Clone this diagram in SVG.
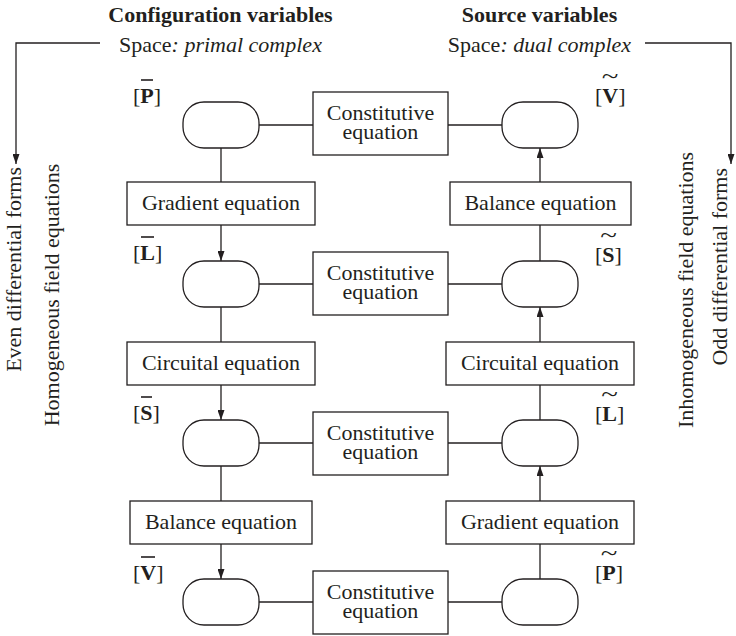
<svg xmlns="http://www.w3.org/2000/svg" width="736" height="636" viewBox="0 0 736 636">
<style>
text{font-family:"Liberation Serif","Times New Roman",serif;font-size:22px;fill:#231f20}
.c{text-anchor:middle}
.b{font-weight:bold}
.i{font-style:italic}
.box{fill:#fff;stroke:#231f20;stroke-width:1.3}
.ov{fill:#fff;stroke:#231f20;stroke-width:1.3}
.ln{stroke:#231f20;stroke-width:1.3;fill:none}
.bar{stroke:#231f20;stroke-width:1.6}
</style>
<defs>
<marker id="ah" markerUnits="userSpaceOnUse" markerWidth="10" markerHeight="7" refX="10" refY="3.5" orient="auto">
<path d="M0,0 L10,3.5 L0,7 z" fill="#231f20"/>
</marker>
</defs>
<rect width="736" height="636" fill="#fff"/>

<g id="headers">
<text class="c b" x="220.5" y="22">Configuration variables</text>
<text class="c" x="220.5" y="52">Space<tspan class="i">: primal complex</tspan></text>
<text class="c b" x="539.5" y="22">Source variables</text>
<text class="c" x="539.5" y="52">Space<tspan class="i">: dual complex</tspan></text>
</g>

<g id="side-labels">
<text transform="translate(21,167) rotate(-90)" text-anchor="end">Even differential forms</text>
<text transform="translate(59,295) rotate(-90)" text-anchor="middle">Homogeneous field equations</text>
<text transform="translate(693,290) rotate(-90)" text-anchor="middle">Inhomogeneous field equations</text>
<text transform="translate(727,168) rotate(-90)" text-anchor="end">Odd differential forms</text>
</g>

<g id="connectors">
<path class="ln" d="M100,43 H16 V164" marker-end="url(#ah)"/>
<path class="ln" d="M645,43 H731 V164" marker-end="url(#ah)"/>
<line class="ln" x1="259" y1="125" x2="313" y2="125"/>
<line class="ln" x1="448" y1="125" x2="502" y2="125"/>
<line class="ln" x1="259" y1="284" x2="313" y2="284"/>
<line class="ln" x1="448" y1="284" x2="502" y2="284"/>
<line class="ln" x1="259" y1="443" x2="313" y2="443"/>
<line class="ln" x1="448" y1="443" x2="502" y2="443"/>
<line class="ln" x1="259" y1="602" x2="313" y2="602"/>
<line class="ln" x1="448" y1="602" x2="502" y2="602"/>
<line class="ln" x1="221" y1="148" x2="221" y2="182"/>
<line class="ln" x1="221" y1="225" x2="221" y2="261" marker-end="url(#ah)"/>
<line class="ln" x1="221" y1="307" x2="221" y2="342"/>
<line class="ln" x1="221" y1="385" x2="221" y2="420" marker-end="url(#ah)"/>
<line class="ln" x1="221" y1="466" x2="221" y2="501"/>
<line class="ln" x1="221" y1="544" x2="221" y2="579" marker-end="url(#ah)"/>
<line class="ln" x1="540" y1="579" x2="540" y2="544"/>
<line class="ln" x1="540" y1="501" x2="540" y2="466" marker-end="url(#ah)"/>
<line class="ln" x1="540" y1="420" x2="540" y2="385"/>
<line class="ln" x1="540" y1="342" x2="540" y2="307" marker-end="url(#ah)"/>
<line class="ln" x1="540" y1="261" x2="540" y2="225"/>
<line class="ln" x1="540" y1="182" x2="540" y2="148" marker-end="url(#ah)"/>
</g>

<g id="oval-P-bar"><rect class="ov" x="183" y="102" width="76" height="46" rx="21"/>
<text x="133" y="103">[<tspan class="b">P</tspan>]</text><line class="bar" x1="141" y1="80" x2="153" y2="80"/></g>
<g id="oval-L-bar"><rect class="ov" x="183" y="261" width="76" height="46" rx="21"/>
<text x="133" y="260">[<tspan class="b">L</tspan>]</text><line class="bar" x1="141" y1="237" x2="154" y2="237"/></g>
<g id="oval-S-bar"><rect class="ov" x="183" y="420" width="76" height="46" rx="21"/>
<text x="133" y="420">[<tspan class="b">S</tspan>]</text><line class="bar" x1="141" y1="397" x2="152" y2="397"/></g>
<g id="oval-V-bar"><rect class="ov" x="183" y="579" width="76" height="46" rx="21"/>
<text x="133" y="580">[<tspan class="b">V</tspan>]</text><line class="bar" x1="141" y1="557" x2="155" y2="557"/></g>

<g id="oval-V-tilde"><rect class="ov" x="502" y="102" width="76" height="46" rx="21"/>
<text x="595" y="103">[<tspan class="b">V</tspan>]</text><text class="c" transform="translate(610,83) scale(1.4,1)">~</text></g>
<g id="oval-S-tilde"><rect class="ov" x="502" y="261" width="76" height="46" rx="21"/>
<text x="595" y="262">[<tspan class="b">S</tspan>]</text><text class="c" transform="translate(608.5,242) scale(1.4,1)">~</text></g>
<g id="oval-L-tilde"><rect class="ov" x="502" y="420" width="76" height="46" rx="21"/>
<text x="595" y="421">[<tspan class="b">L</tspan>]</text><text class="c" transform="translate(609.5,401) scale(1.4,1)">~</text></g>
<g id="oval-P-tilde"><rect class="ov" x="502" y="579" width="76" height="46" rx="21"/>
<text x="595" y="580">[<tspan class="b">P</tspan>]</text><text class="c" transform="translate(609,560) scale(1.4,1)">~</text></g>

<g id="const-1"><rect class="box" x="313" y="92" width="135" height="63"/>
<text class="c" x="380.5" y="120">Constitutive</text><text class="c" x="380.5" y="138.5">equation</text></g>
<g id="const-2"><rect class="box" x="313" y="252" width="135" height="63"/>
<text class="c" x="380.5" y="280">Constitutive</text><text class="c" x="380.5" y="298.5">equation</text></g>
<g id="const-3"><rect class="box" x="313" y="412" width="135" height="63"/>
<text class="c" x="380.5" y="440">Constitutive</text><text class="c" x="380.5" y="458.5">equation</text></g>
<g id="const-4"><rect class="box" x="313" y="571" width="135" height="63"/>
<text class="c" x="380.5" y="599">Constitutive</text><text class="c" x="380.5" y="617.5">equation</text></g>

<g id="left-gradient"><rect class="box" x="127" y="182" width="188" height="43"/>
<text class="c" x="221" y="209.5">Gradient equation</text></g>
<g id="left-circuital"><rect class="box" x="127" y="342" width="188" height="43"/>
<text class="c" x="221" y="369.5">Circuital equation</text></g>
<g id="left-balance"><rect class="box" x="130" y="501" width="182" height="43"/>
<text class="c" x="221" y="528.5">Balance equation</text></g>
<g id="right-balance"><rect class="box" x="450" y="182" width="181" height="43"/>
<text class="c" x="540.5" y="209.5">Balance equation</text></g>
<g id="right-circuital"><rect class="box" x="446" y="342" width="188" height="43"/>
<text class="c" x="540" y="369.5">Circuital equation</text></g>
<g id="right-gradient"><rect class="box" x="446" y="501" width="188" height="43"/>
<text class="c" x="540" y="528.5">Gradient equation</text></g>
</svg>
